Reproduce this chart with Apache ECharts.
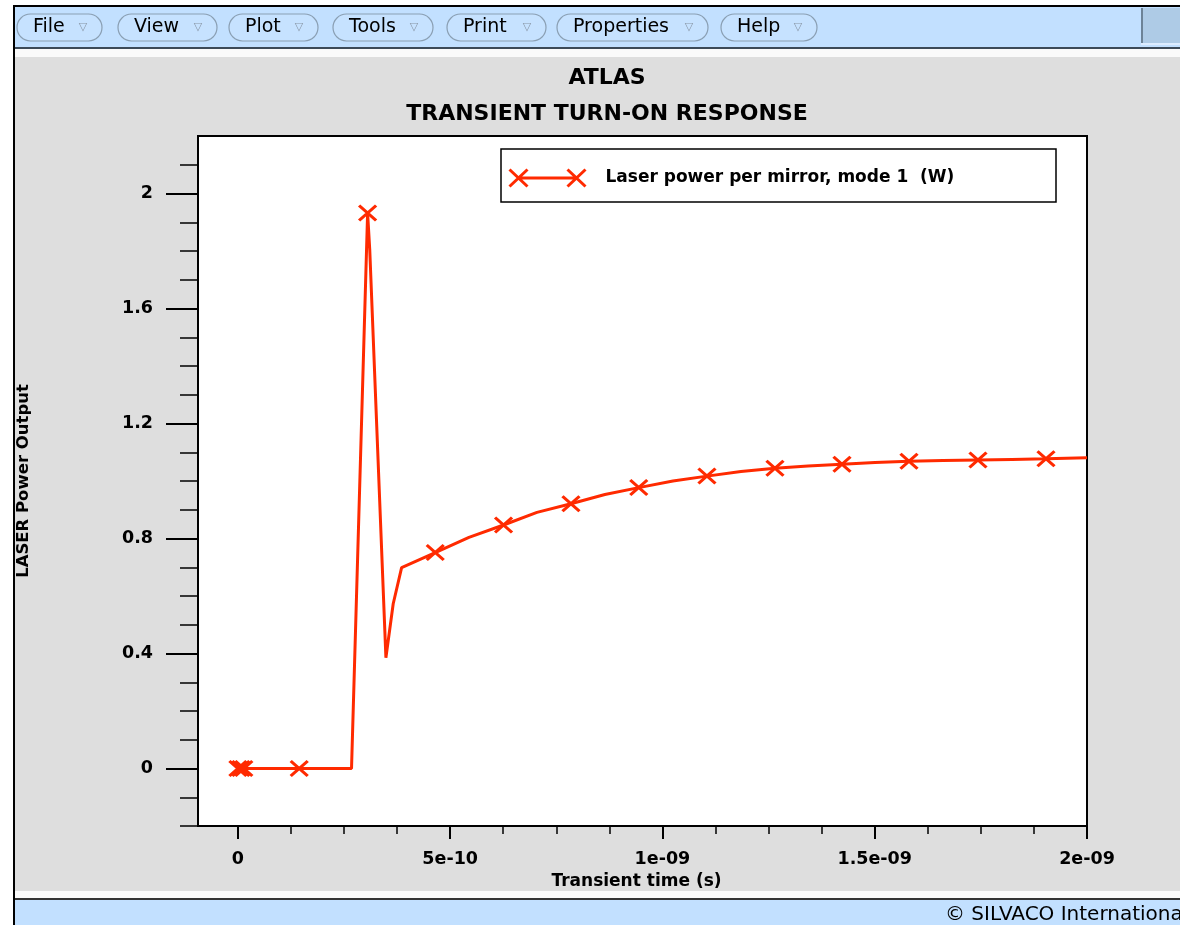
<!DOCTYPE html>
<html><head><meta charset="utf-8">
<script src="https://cdn.jsdelivr.net/npm/echarts@6/dist/echarts.min.js"></script>
<style>html,body{margin:0;padding:0;background:#fff}#c{width:1180px;height:925px}</style>
</head><body><div id="c"></div>
<script>
// ---- data ----
const timeS = [0, 7e-12, 1.4e-11, 1.444e-10, 2.676e-10, 3.055e-10, 3.105e-10, 3.486e-10, 3.658e-10, 3.856e-10,
  4.648e-10, 5.442e-10, 6.257e-10, 7.044e-10, 7.845e-10, 8.645e-10, 9.442e-10, 10.247e-10, 11.048e-10, 11.849e-10,
  12.650e-10, 13.428e-10, 14.229e-10, 15.006e-10, 15.807e-10, 16.608e-10, 17.432e-10, 18.233e-10, 19.034e-10, 20e-10];
const powerW = [0, 0, 0, 0, 0, 1.932, 1.806, 0.385, 0.573, 0.699,
  0.751, 0.804, 0.847, 0.891, 0.921, 0.953, 0.977, 1.000, 1.017, 1.033,
  1.044, 1.052, 1.058, 1.064, 1.069, 1.071, 1.073, 1.075, 1.077, 1.081];
const markerFlag = [1, 1, 1, 1, 0, 1, 0, 0, 0, 0,
  1, 0, 1, 0, 1, 0, 1, 0, 1, 0,
  1, 0, 1, 0, 1, 0, 1, 0, 1, 0];
const seriesName = 'Laser power per mirror, mode 1  (W)';
const xMajorTicks = [0, 5e-10, 1e-9, 1.5e-9, 2e-9];
const xTickLabels = ['0', '5e-10', '1e-09', '1.5e-09', '2e-09'];
const xMinorTicks = [1.25e-10, 2.5e-10, 3.75e-10, 6.25e-10, 7.5e-10, 8.75e-10, 1.125e-9, 1.25e-9, 1.375e-9, 1.625e-9, 1.75e-9, 1.875e-9];
const yMajorTicks = [0, 0.4, 0.8, 1.2, 1.6, 2];
const yTickLabels = ['0', '0.4', '0.8', '1.2', '1.6', '2'];
const yMinorTicks = [-0.2, -0.1, 0.1, 0.2, 0.3, 0.5, 0.6, 0.7, 0.9, 1.0, 1.1, 1.3, 1.4, 1.5, 1.7, 1.8, 1.9, 2.1];
const menuItems = ['File', 'View', 'Plot', 'Tools', 'Print', 'Properties', 'Help'];

// ---- styling / layout ----
const RED = '#ff2a00';
const FONT = 'DejaVu Sans';
const X_PATH = 'path://M0,0L14,13M0,13L14,0';
const LEGEND_PATH = 'path://M0,0L18,17M0,17L18,0M9,8.5L67,8.5M58,0L76,17M58,17L76,0';
const menuX = [[17, 102], [118, 217], [229, 318], [333, 433], [447, 546], [557, 708], [721, 817]];

function pickLabel(v, ticks, labels) {
  const span = Math.abs(ticks[ticks.length - 1] - ticks[0]) || 1;
  for (let i = 0; i < ticks.length; i++) if (Math.abs(ticks[i] - v) < span * 1e-4) return labels[i];
  return '';
}

const graphics = [
  { type: 'rect', shape: { x: 0, y: 0, width: 1180, height: 5 }, style: { fill: '#ffffff' }, silent: true },
  { type: 'rect', shape: { x: 0, y: 0, width: 13, height: 925 }, style: { fill: '#ffffff' }, silent: true },
  { type: 'rect', shape: { x: 13, y: 5, width: 1167, height: 2 }, style: { fill: '#000' }, silent: true },
  { type: 'rect', shape: { x: 13, y: 5, width: 2, height: 920 }, style: { fill: '#000' }, silent: true },
  { type: 'rect', shape: { x: 15, y: 7, width: 1165, height: 40 }, style: { fill: '#c2e0ff' }, silent: true },
  { type: 'rect', shape: { x: 15, y: 47, width: 1165, height: 2 }, style: { fill: '#3c4a58' }, silent: true },
  { type: 'rect', shape: { x: 15, y: 49, width: 1165, height: 8 }, style: { fill: '#fafafa' }, silent: true },
  { type: 'rect', shape: { x: 1142, y: 8, width: 38, height: 36 }, style: { fill: '#aecbe6' }, silent: true },
  { type: 'rect', shape: { x: 1141, y: 8, width: 2, height: 36 }, style: { fill: '#6d8397' }, silent: true },
  { type: 'rect', shape: { x: 1141, y: 43, width: 39, height: 2 }, style: { fill: '#dcecff' }, silent: true },
  { type: 'rect', shape: { x: 15, y: 891, width: 1165, height: 7 }, style: { fill: '#fafafa' }, silent: true },
  { type: 'rect', shape: { x: 15, y: 898, width: 1165, height: 2 }, style: { fill: '#333' }, silent: true },
  { type: 'rect', shape: { x: 15, y: 900, width: 1165, height: 25 }, style: { fill: '#c2e0ff' }, silent: true },
  { type: 'text', x: 945, y: 915, style: { text: '© SILVACO International', font: '20px ' + FONT, fill: '#000', verticalAlign: 'middle' }, silent: true },
  { type: 'text', x: 607, y: 78, style: { text: 'ATLAS', font: 'bold 22px ' + FONT, fill: '#000', align: 'center', verticalAlign: 'middle' }, silent: true },
  { type: 'text', x: 607, y: 114, style: { text: 'TRANSIENT TURN-ON RESPONSE', font: 'bold 22px ' + FONT, fill: '#000', align: 'center', verticalAlign: 'middle' }, silent: true },
  { type: 'rect', z: 10, shape: { x: 501, y: 149, width: 555, height: 53 }, style: { fill: 'none', stroke: '#000', lineWidth: 1.5 }, silent: true }
];
menuItems.forEach((m, i) => {
  const [x0, x1] = menuX[i];
  graphics.push({ type: 'rect', shape: { x: x0, y: 14, width: x1 - x0, height: 27, r: 13.5 }, style: { fill: '#c6e2ff', stroke: '#8a9fb3', lineWidth: 1.2 }, silent: true });
  graphics.push({ type: 'text', x: x0 + 16, y: 27.5, style: { text: m, font: '19px ' + FONT, fill: '#000', verticalAlign: 'middle' }, silent: true });
  graphics.push({ type: 'text', x: x1 - 19, y: 27.5, style: { text: '▽', font: '11px ' + FONT, fill: '#8a98a8', align: 'center', verticalAlign: 'middle' }, silent: true });
});

const seriesData = timeS.map((t, i) => ({ value: [t, powerW[i]], symbol: markerFlag[i] ? X_PATH : 'none' }));
const xMin = -9.4e-11, xMax = 2e-9, yMin = -0.2, yMax = 2.2;
const axisFont = { fontFamily: FONT, fontWeight: 'bold', fontSize: 17.5, color: '#000' };

const option = {
  animation: false,
  backgroundColor: '#dedede',
  graphic: graphics,
  grid: { left: 198, top: 136, right: 93, bottom: 99, show: true, backgroundColor: '#ffffff', borderColor: '#000', borderWidth: 2 },
  legend: {
    left: 507, top: 167, padding: 0,
    icon: LEGEND_PATH, itemWidth: 76, itemHeight: 17,
    itemStyle: { color: 'none', borderColor: RED, borderWidth: 3 },
    textStyle: { fontFamily: FONT, fontWeight: 'bold', fontSize: 17, color: '#000', padding: [0, 0, 0, 15] },
    data: [seriesName]
  },
  xAxis: [
    {
      type: 'value', min: xMin, max: xMax, position: 'bottom',
      name: 'Transient time (s)', nameLocation: 'middle', nameGap: 44,
      nameTextStyle: { fontFamily: FONT, fontWeight: 'bold', fontSize: 17, color: '#000', padding: [0, 12, 0, 0] },
      axisLine: { show: true, onZero: false, lineStyle: { color: '#000', width: 2 } },
      axisTick: { show: true, length: 13, lineStyle: { color: '#000', width: 2 }, customValues: xMajorTicks },
      axisLabel: Object.assign({ margin: 24, customValues: xMajorTicks, formatter: v => pickLabel(v, xMajorTicks, xTickLabels) }, axisFont),
      splitLine: { show: false }
    },
    {
      type: 'value', min: xMin, max: xMax, position: 'bottom',
      axisLine: { show: false, onZero: false },
      axisTick: { show: true, length: 8, lineStyle: { color: '#000', width: 1.5 }, customValues: xMinorTicks },
      axisLabel: { show: false },
      splitLine: { show: false }
    }
  ],
  yAxis: [
    {
      type: 'value', min: yMin, max: yMax, position: 'left',
      name: 'LASER Power Output', nameLocation: 'middle', nameGap: 166, nameRotate: 90,
      nameTextStyle: { fontFamily: FONT, fontWeight: 'bold', fontSize: 16.5, color: '#000' },
      axisLine: { show: true, onZero: false, lineStyle: { color: '#000', width: 2 } },
      axisTick: { show: true, length: 32, lineStyle: { color: '#000', width: 2 }, customValues: yMajorTicks },
      axisLabel: Object.assign({ margin: 45, customValues: yMajorTicks, formatter: v => pickLabel(v, yMajorTicks, yTickLabels) }, axisFont),
      splitLine: { show: false }
    },
    {
      type: 'value', min: yMin, max: yMax, position: 'left',
      axisLine: { show: false, onZero: false },
      axisTick: { show: true, length: 18, lineStyle: { color: '#000', width: 1.5 }, customValues: yMinorTicks },
      axisLabel: { show: false },
      splitLine: { show: false }
    }
  ],
  series: [{
    name: seriesName, type: 'line', xAxisIndex: 0, yAxisIndex: 0,
    data: seriesData, symbol: X_PATH, symbolSize: [17, 15], showAllSymbol: true,
    lineStyle: { color: RED, width: 3 },
    itemStyle: { color: RED, borderColor: RED, borderWidth: 3 },
    emphasis: { disabled: true }
  }]
};
const chart = echarts.init(document.getElementById('c'), null, { renderer: 'canvas' });
chart.setOption(option);
</script></body></html>
